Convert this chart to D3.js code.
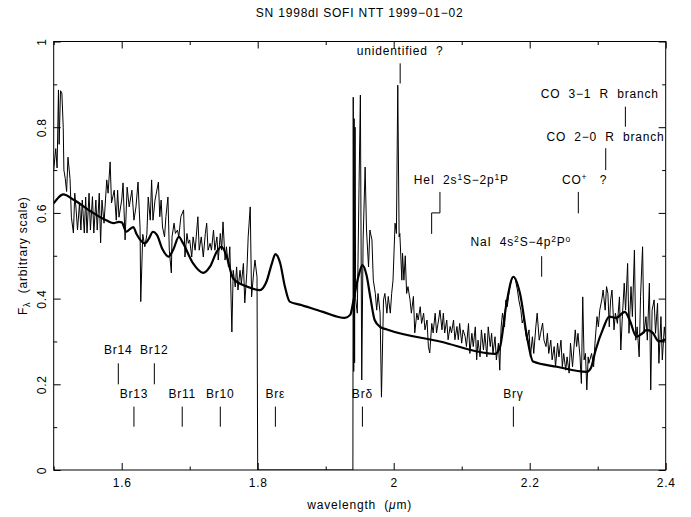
<!DOCTYPE html>
<html>
<head>
<meta charset="utf-8">
<script src="https://cdn.jsdelivr.net/npm/d3@7"></script>
<style>
  body { margin: 0; background: #fff; }
  svg text { font-family: "Liberation Sans", Arial, sans-serif; font-size: 12px; letter-spacing: 0.8px; fill: #000; white-space: pre; }
</style>
</head>
<body>
<div id="chart"></div>
<script>
// observed spectrum, [wavelength (um), flux]
const observed = [
  [1.500,0.70],[1.503,0.75],[1.505,0.705],[1.507,0.887],[1.508,0.76],[1.510,0.885],[1.512,0.88],[1.514,0.80],
  [1.515,0.70],[1.517,0.68],[1.519,0.65],[1.521,0.73],[1.524,0.68],[1.526,0.59],[1.529,0.553],[1.531,0.646],
  [1.533,0.607],[1.535,0.56],[1.538,0.623],[1.540,0.56],[1.542,0.63],[1.545,0.553],[1.547,0.637],[1.549,0.553],
  [1.552,0.646],[1.554,0.56],[1.557,0.638],[1.559,0.553],[1.562,0.63],[1.564,0.56],[1.567,0.646],[1.569,0.53],
  [1.571,0.63],[1.574,0.576],[1.578,0.677],[1.580,0.646],[1.583,0.719],[1.585,0.623],[1.589,0.653],[1.592,0.583],
  [1.594,0.653],[1.596,0.59],[1.600,0.63],[1.602,0.67],[1.605,0.537],[1.608,0.66],[1.611,0.614],[1.615,0.653],
  [1.618,0.583],[1.621,0.614],[1.624,0.672],[1.627,0.565],[1.628,0.393],[1.631,0.55],[1.634,0.521],[1.637,0.55],
  [1.639,0.637],[1.642,0.583],[1.644,0.677],[1.646,0.583],[1.649,0.63],[1.654,0.672],[1.656,0.591],[1.658,0.63],
  [1.660,0.567],[1.663,0.544],[1.665,0.591],[1.668,0.637],[1.670,0.513],[1.673,0.46],[1.674,0.544],[1.677,0.576],
  [1.679,0.552],[1.682,0.56],[1.684,0.544],[1.687,0.591],[1.691,0.607],[1.693,0.497],[1.696,0.552],[1.698,0.529],
  [1.700,0.537],[1.703,0.497],[1.705,0.544],[1.708,0.513],[1.712,0.591],[1.714,0.513],[1.717,0.544],[1.720,0.497],
  [1.723,0.552],[1.725,0.576],[1.727,0.513],[1.730,0.529],[1.732,0.513],[1.735,0.56],[1.737,0.513],[1.740,0.544],
  [1.742,0.49],[1.745,0.552],[1.747,0.513],[1.749,0.579],[1.752,0.49],[1.754,0.521],[1.757,0.474],[1.759,0.521],
  [1.762,0.322],[1.764,0.466],[1.767,0.427],[1.769,0.474],[1.771,0.42],[1.774,0.466],[1.776,0.435],[1.779,0.482],
  [1.781,0.39],[1.784,0.46],[1.786,0.544],[1.789,0.614],[1.791,0.404],[1.794,0.46],[1.796,0.49],[1.799,0.45],
  [1.800,0],[1.940,0],
  [1.9405,0.87],[1.9412,0.23],[1.9418,0.82],[1.9425,0.25],[1.9432,0.80],[1.944,0.40],[1.9465,0.366],[1.949,0.66],
  [1.951,0.875],[1.953,0.21],[1.955,0.537],[1.958,0.707],[1.960,0.56],[1.963,0.474],[1.965,0.56],[1.968,0.537],
  [1.970,0.443],[1.973,0.412],[1.975,0.373],[1.977,0.412],[1.980,0.366],[1.982,0.17],[1.985,0.397],[1.987,0.412],
  [1.990,0.366],[1.992,0.405],[1.995,0.366],[1.997,0.412],[1.999,0.443],[2.002,0.576],[2.004,0.552],[2.006,0.898],
  [2.008,0.544],[2.009,0.552],[2.012,0.443],[2.013,0.506],[2.015,0.443],[2.017,0.50],[2.019,0.412],[2.021,0.428],
  [2.024,0.397],[2.026,0.366],[2.029,0.405],[2.031,0.32],[2.034,0.366],[2.036,0.35],[2.039,0.381],[2.041,0.342],
  [2.044,0.366],[2.046,0.327],[2.049,0.35],[2.051,0.288],[2.053,0.273],[2.056,0.342],[2.058,0.32],[2.061,0.366],
  [2.063,0.32],[2.066,0.35],[2.068,0.373],[2.071,0.327],[2.073,0.366],[2.075,0.32],[2.078,0.35],[2.080,0.304],
  [2.083,0.335],[2.085,0.32],[2.088,0.35],[2.090,0.304],[2.093,0.335],[2.095,0.304],[2.097,0.342],[2.100,0.296],
  [2.102,0.327],[2.105,0.312],[2.107,0.288],[2.110,0.342],[2.112,0.272],[2.115,0.319],[2.117,0.288],[2.120,0.334],
  [2.122,0.257],[2.124,0.303],[2.127,0.264],[2.129,0.327],[2.132,0.28],[2.134,0.319],[2.137,0.264],[2.139,0.334],
  [2.142,0.288],[2.144,0.319],[2.146,0.272],[2.149,0.311],[2.151,0.257],[2.154,0.296],[2.156,0.233],[2.158,0.334],
  [2.160,0.366],[2.163,0.334],[2.165,0.397],[2.167,0.381],[2.170,0.42],[2.172,0.436],[2.174,0.447],[2.177,0.451],
  [2.179,0.443],[2.182,0.42],[2.184,0.397],[2.187,0.373],[2.189,0.343],[2.192,0.358],[2.194,0.319],[2.196,0.303],
  [2.199,0.327],[2.201,0.264],[2.204,0.311],[2.206,0.272],[2.209,0.334],[2.211,0.366],[2.214,0.303],[2.216,0.319],
  [2.219,0.343],[2.221,0.303],[2.224,0.288],[2.226,0.319],[2.228,0.272],[2.231,0.303],[2.233,0.257],[2.236,0.288],
  [2.238,0.241],[2.241,0.296],[2.243,0.264],[2.246,0.303],[2.248,0.241],[2.250,0.272],[2.253,0.233],[2.255,0.264],
  [2.258,0.226],[2.260,0.296],[2.263,0.241],[2.267,0.327],[2.269,0.288],[2.271,0.319],[2.274,0.264],[2.276,0.202],
  [2.278,0.404],[2.280,0.257],[2.282,0.272],[2.284,0.187],[2.286,0.264],[2.287,0.249],[2.291,0.272],[2.294,0.241],
  [2.296,0.296],[2.299,0.358],[2.301,0.334],[2.303,0.373],[2.306,0.397],[2.308,0.42],[2.311,0.373],[2.313,0.428],
  [2.315,0.412],[2.317,0.334],[2.319,0.397],[2.321,0.42],[2.324,0.327],[2.326,0.366],[2.329,0.342],[2.332,0.404],
  [2.334,0.28],[2.336,0.35],[2.339,0.436],[2.341,0.373],[2.344,0.482],[2.346,0.319],[2.349,0.428],[2.351,0.358],
  [2.354,0.513],[2.356,0.303],[2.358,0.334],[2.361,0.264],[2.363,0.404],[2.366,0.521],[2.368,0.319],[2.371,0.358],
  [2.373,0.303],[2.376,0.436],[2.378,0.187],[2.380,0.373],[2.383,0.397],[2.385,0.319],[2.388,0.389],[2.390,0.249],
  [2.393,0.358],[2.395,0.257],[2.398,0.334],[2.400,0.303]
]

// model spectrum (thick line)
const model = [
  [1.500,0.622],[1.507,0.636],[1.514,0.643],[1.530,0.630],[1.553,0.605],[1.578,0.582],[1.588,0.576],[1.596,0.579],
  [1.600,0.578],[1.607,0.556],[1.612,0.562],[1.617,0.567],[1.622,0.55],[1.634,0.529],[1.640,0.54],[1.646,0.556],
  [1.652,0.548],[1.660,0.515],[1.669,0.498],[1.676,0.515],[1.684,0.544],[1.690,0.53],[1.705,0.482],[1.720,0.46],
  [1.730,0.475],[1.740,0.51],[1.747,0.521],[1.754,0.50],[1.764,0.447],[1.784,0.428],[1.803,0.42],[1.813,0.44],
  [1.821,0.483],[1.826,0.504],[1.833,0.483],[1.840,0.428],[1.847,0.393],[1.862,0.386],[1.896,0.369],[1.928,0.355],
  [1.936,0.362],[1.941,0.397],[1.948,0.451],[1.954,0.478],[1.960,0.455],[1.966,0.40],[1.972,0.35],[1.980,0.334],
  [1.990,0.328],[2.068,0.30],[2.149,0.271],[2.156,0.285],[2.166,0.39],[2.176,0.451],[2.186,0.41],[2.196,0.311],
  [2.205,0.253],[2.240,0.241],[2.284,0.229],[2.290,0.238],[2.297,0.28],[2.308,0.33],[2.317,0.358],[2.327,0.355],
  [2.340,0.369],[2.347,0.35],[2.357,0.311],[2.365,0.318],[2.372,0.327],[2.381,0.32],[2.390,0.30],[2.400,0.305]
]

const xMajor = [1.6, 1.8, 2.0, 2.2, 2.4]
const xMinor = [1.5, 1.7, 1.9, 2.1, 2.3]
const yMajor = [0, 0.2, 0.4, 0.6, 0.8, 1]
const yMinor = [0.1, 0.3, 0.5, 0.7, 0.9]

// line ids: label parts (text, sup), text x (um), text baseline (flux), anchor, marker path in data units
const lineIds = [
  { parts: [['unidentified  ?']], tx: 2.0095, ty: 0.968, anchor: 'middle', mark: [[2.0095,0.949],[2.0095,0.902]] },
  { parts: [['CO  3\u22121  R  branch']], tx: 2.303, ty: 0.867, anchor: 'middle', mark: [[2.3407,0.848],[2.3407,0.801]] },
  { parts: [['CO  2\u22120  R  branch']], tx: 2.3115, ty: 0.768, anchor: 'middle', mark: [[2.3118,0.751],[2.3118,0.70]] },
  { parts: [['CO'],['+','sup'],['   ?']], tx: 2.2475, ty: 0.667, anchor: 'start', mark: [[2.2715,0.649],[2.2715,0.599]] },
  { parts: [['HeI  2s'],['1','sup'],['S\u22122p'],['1','sup'],['P']], tx: 2.0994, ty: 0.667, anchor: 'middle',
    mark: [[2.068,0.649],[2.068,0.600],[2.0558,0.600],[2.0558,0.551]] },
  { parts: [['NaI  4s'],['2','sup'],['S\u22124p'],['2','sup'],['P'],['o','sup']], tx: 2.1869, ty: 0.523, anchor: 'middle',
    mark: [[2.2176,0.499],[2.2176,0.451]] },
  { parts: [['Br14']], tx: 1.595, ty: 0.270, anchor: 'middle', mark: [[1.595,0.249],[1.595,0.200]] },
  { parts: [['Br12']], tx: 1.648, ty: 0.270, anchor: 'middle', mark: [[1.648,0.249],[1.648,0.200]] },
  { parts: [['Br13']], tx: 1.618, ty: 0.168, anchor: 'middle', mark: [[1.618,0.148],[1.618,0.101]] },
  { parts: [['Br11']], tx: 1.689, ty: 0.168, anchor: 'middle', mark: [[1.689,0.148],[1.689,0.101]] },
  { parts: [['Br10']], tx: 1.745, ty: 0.168, anchor: 'middle', mark: [[1.745,0.148],[1.745,0.101]] },
  { parts: [['Br\u03b5']], tx: 1.826, ty: 0.168, anchor: 'middle', mark: [[1.826,0.148],[1.826,0.101]] },
  { parts: [['Br\u03b4']], tx: 1.954, ty: 0.168, anchor: 'middle', mark: [[1.954,0.148],[1.954,0.101]] },
  { parts: [['Br\u03b3']], tx: 2.176, ty: 0.168, anchor: 'middle', mark: [[2.176,0.148],[2.176,0.101]] }
]

const width = 691, height = 517
const margin = { top: 41.5, right: 25.3, bottom: 47, left: 53.7 }

const svg = d3.select('#chart').append('svg')
  .attr('width', width).attr('height', height)

const x = d3.scaleLinear().domain([1.5, 2.4]).range([margin.left, width - margin.right])
const y = d3.scaleLinear().domain([0, 1]).range([height - margin.bottom, margin.top])

svg.append('clipPath').attr('id', 'plot')
  .append('rect')
  .attr('x', margin.left).attr('y', margin.top)
  .attr('width', x(2.4) - x(1.5)).attr('height', y(0) - y(1))

const line = d3.line().x(d => x(d[0])).y(d => y(d[1]))

svg.append('path')
  .datum(observed)
  .attr('clip-path', 'url(#plot)')
  .attr('fill', 'none').attr('stroke', '#000').attr('stroke-width', 1)
  .attr('d', line)

svg.append('path')
  .datum(model)
  .attr('clip-path', 'url(#plot)')
  .attr('fill', 'none').attr('stroke', '#000').attr('stroke-width', 2.2)
  .attr('d', line.curve(d3.curveMonotoneX))

// axes, ticks drawn inward on all four sides
const fmt = d => String(+d.toFixed(1))
const drawAxis = (axis, tr, vals, size, labels) => {
  const g = svg.append('g').attr('transform', tr)
    .call(axis.tickValues(vals).tickSize(size).tickSizeOuter(0).tickFormat(labels ? fmt : ''))
  g.select('.domain').remove()
  g.selectAll('line').attr('stroke', '#000')
  g.selectAll('text').attr('font-size', null).attr('font-family', null)
  return g
}
const atBottom = `translate(0,${y(0)})`, atTop = `translate(0,${y(1)})`
const atLeft = `translate(${x(1.5)},0)`, atRight = `translate(${x(2.4)},0)`

const gx = drawAxis(d3.axisBottom(x), atBottom, xMajor, -7, true)
gx.selectAll('text').attr('y', 17).attr('dy', 0)
drawAxis(d3.axisBottom(x), atBottom, xMinor, -3.5, false)
drawAxis(d3.axisTop(x), atTop, xMajor, -7, false)
drawAxis(d3.axisTop(x), atTop, xMinor, -3.5, false)

const gy = drawAxis(d3.axisLeft(y), atLeft, yMajor, -7, true)
gy.selectAll('text')
  .attr('transform', 'rotate(-90)')
  .attr('x', 0).attr('y', -7.5).attr('dy', 0)
  .attr('text-anchor', 'middle')
drawAxis(d3.axisLeft(y), atLeft, yMinor, -3.5, false)
drawAxis(d3.axisRight(y), atRight, yMajor, -7, false)
drawAxis(d3.axisRight(y), atRight, yMinor, -3.5, false)

svg.append('rect')
  .attr('x', x(1.5)).attr('y', y(1))
  .attr('width', x(2.4) - x(1.5)).attr('height', y(0) - y(1))
  .attr('fill', 'none').attr('stroke', '#000').attr('stroke-width', 1)

// line identifications
const ids = svg.append('g')
ids.selectAll('path.mark')
  .data(lineIds)
  .join('path')
  .attr('class', 'mark')
  .attr('fill', 'none').attr('stroke', '#000').attr('stroke-width', 1)
  .attr('d', d => d3.line().x(p => x(p[0])).y(p => y(p[1]))(d.mark))

ids.selectAll('text')
  .data(lineIds)
  .join('text')
  .attr('x', d => x(d.tx)).attr('y', d => y(d.ty))
  .attr('text-anchor', d => d.anchor)
  .each(function(d) {
    const t = d3.select(this)
    d.parts.forEach(p => {
      const s = t.append('tspan').text(p[0])
      if (p[1] === 'sup') s.attr('baseline-shift', '40%').style('font-size', '8.5px')
    })
  })

// titles
svg.append('text')
  .attr('x', (x(1.5) + x(2.4)) / 2).attr('y', 16.5)
  .attr('text-anchor', 'middle')
  .text('SN 1998dl SOFI NTT 1999\u221201\u221202')

const xl = svg.append('text')
  .attr('x', (x(1.5) + x(2.4)) / 2).attr('y', 509)
  .attr('text-anchor', 'middle')
xl.append('tspan').text('wavelength  (')
xl.append('tspan').text('\u03bc').style('font-style', 'italic')
xl.append('tspan').text('m)')

const yl = svg.append('text')
  .attr('transform', `translate(27,${(y(0) + y(1)) / 2}) rotate(-90)`)
  .attr('text-anchor', 'middle')
yl.append('tspan').text('F')
yl.append('tspan').text('\u03bb').attr('baseline-shift', '-30%').style('font-size', '9px')
yl.append('tspan').text('  (arbitrary scale)')
</script>
</body>
</html>
